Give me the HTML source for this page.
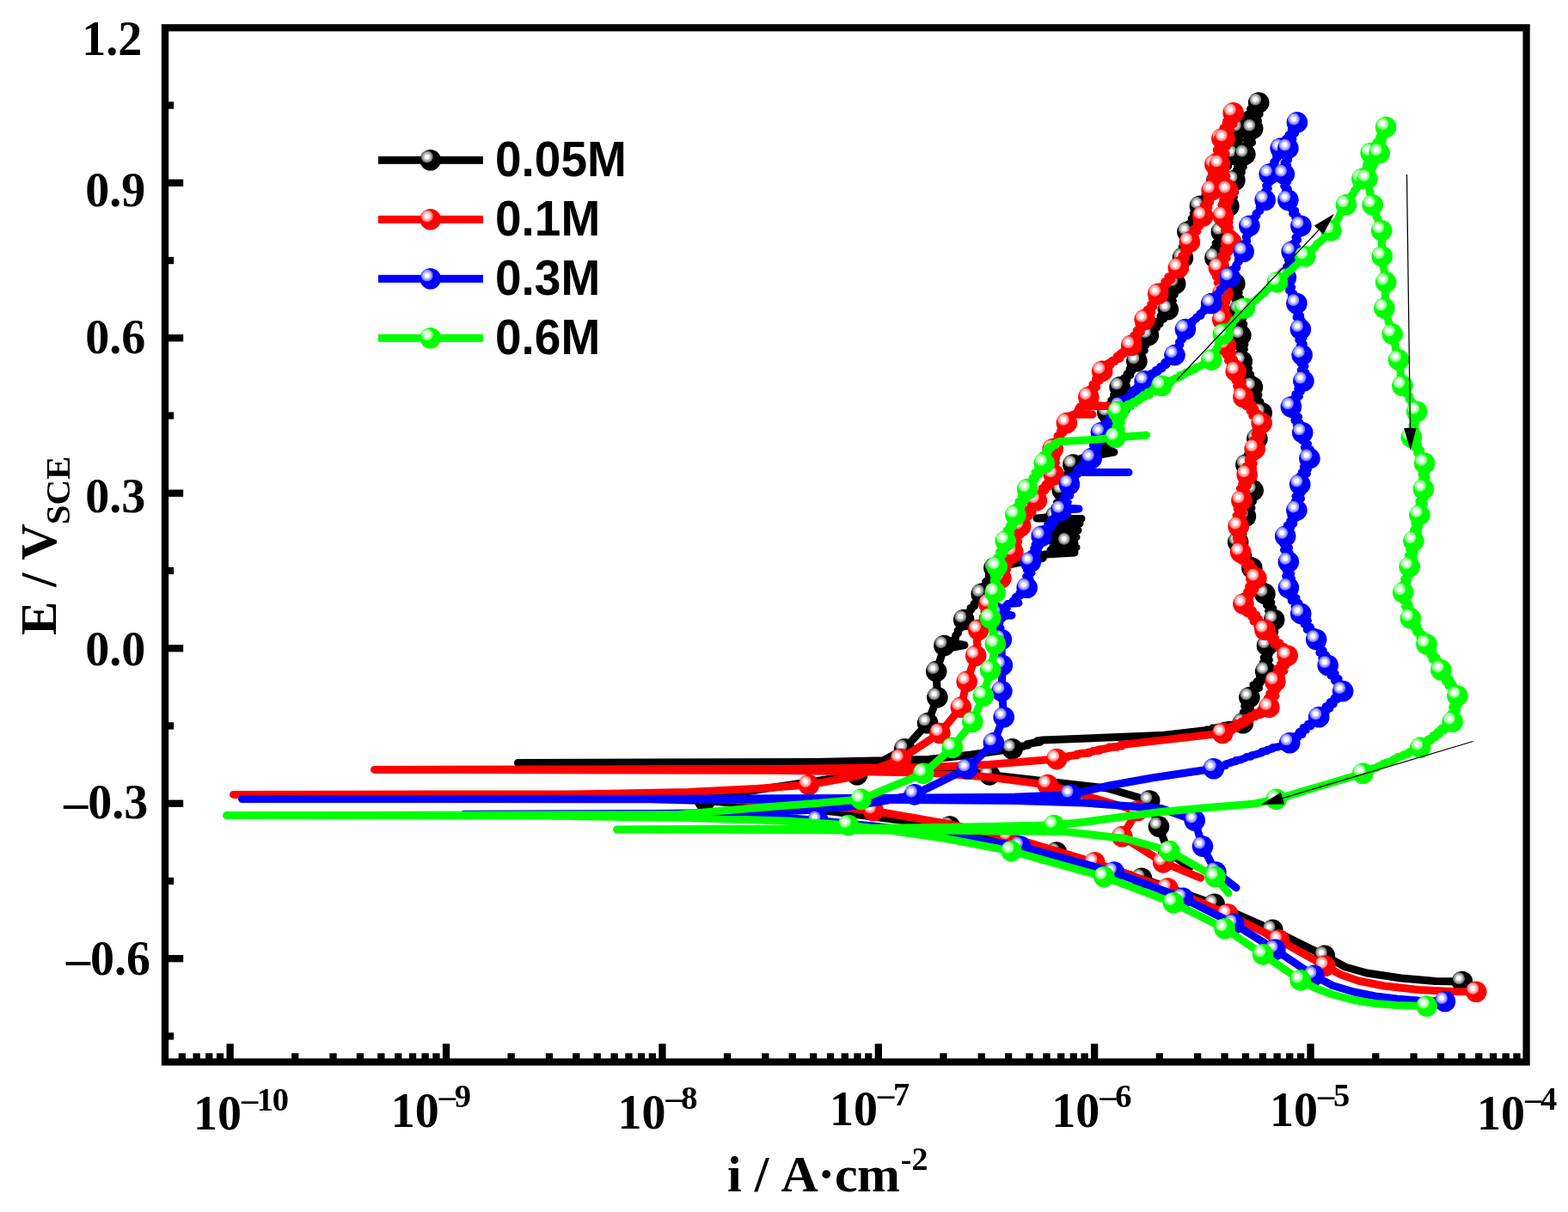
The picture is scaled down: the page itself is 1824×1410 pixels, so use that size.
<!DOCTYPE html>
<html lang="en">
<head>
<meta charset="utf-8">
<title>Cyclic polarization curves</title>
<style>
html,body{margin:0;padding:0;background:#fff;}
body{width:1824px;height:1410px;overflow:hidden;}
svg{display:block;}
.tk{font-family:"Liberation Serif","DejaVu Serif",serif;font-weight:bold;fill:#000;}
.lg{font-family:"Liberation Sans","DejaVu Sans",sans-serif;font-weight:bold;fill:#000;}
.ln{fill:none;stroke-width:9;stroke-linecap:round;stroke-linejoin:round;}
</style>
</head>
<body>
<svg width="1824" height="1410" viewBox="0 0 1824 1410">
<defs>
<g id="mk"><circle r="12.3" fill="#000000"/><circle cx="-3.9" cy="-3.9" r="6.9" fill="#808080"/><circle cx="-3.9" cy="-3.9" r="5.1" fill="#c0c0c0"/><circle cx="-3.9" cy="-3.9" r="3" fill="#fff"/></g>
<g id="mr"><circle r="12.3" fill="#ff0000"/><circle cx="-3.9" cy="-3.9" r="6.9" fill="#ff8080"/><circle cx="-3.9" cy="-3.9" r="5.1" fill="#ffc0c0"/><circle cx="-3.9" cy="-3.9" r="3" fill="#fff"/></g>
<g id="mb"><circle r="12.3" fill="#0000ff"/><circle cx="-3.9" cy="-3.9" r="6.9" fill="#8080ff"/><circle cx="-3.9" cy="-3.9" r="5.1" fill="#c0c0ff"/><circle cx="-3.9" cy="-3.9" r="3" fill="#fff"/></g>
<g id="mg"><circle r="12.3" fill="#00ff00"/><circle cx="-3.9" cy="-3.9" r="6.9" fill="#80ff80"/><circle cx="-3.9" cy="-3.9" r="5.1" fill="#c0ffc0"/><circle cx="-3.9" cy="-3.9" r="3" fill="#fff"/></g>
</defs>
<rect width="1824" height="1410" fill="#fff"/>
<g id="series-k">
<path class="ln" stroke="#000000" d="M1700.9 1142L1670 1141.5L1630 1138L1590 1132L1565 1125L1540.9 1111.9L1480.4 1081.9L1412.6 1051.8L1328 1021.7L1229 991.6L1105 961.6L972 944.5L900 938L820 931.5L700 928L300 926L700 925L860 922L997.1 901.4L1052.2 871.3L1079.2 841.2L1090.4 811.2L1089.2 781.1L1096.6 758.5L1097.1 755.1L1098.4 751L1109 753L1122 750.5L1108 748L1109 744.6L1111.5 742.5L1111.8 739.2L1114.5 736.4L1114.3 733.4L1117.5 730.4L1117.3 727.5L1120.7 724.6L1121.2 721L1121.7 718.7L1126.2 715.6L1125.7 713.5L1129.9 709.2L1129.2 707.1L1133.5 705.3L1133 702.5L1137.6 698.6L1136.4 696.3L1141.1 694L1141.7 690.9L1140.9 688.4L1146.7 685.7L1143.8 682.1L1149.6 678.9L1146.7 676.5L1152.9 673.4L1150.3 669.7L1155.2 667L1152.5 663.9L1156.4 660.8L1180 655.5L1213 649.5L1215 645L1250 643L1222 640L1252 637L1225 634L1250 632L1241.7 630.7L1215 628L1252 625L1220 621L1254 617L1228 613L1256 609L1232 606L1258 603.5L1206 603L1228.4 600.7L1226.8 597.7L1233 593.5L1227.4 589.9L1234.5 587.3L1229.6 584.7L1236.3 581.2L1231.7 577.2L1237.4 574.1L1235.9 570.6L1240.3 566.9L1235.6 565.3L1241.8 561.8L1237.9 558.9L1245 555.5L1240 552.2L1247.7 549.8L1242.8 546.5L1249.3 543.9L1248.4 540.5L1254.3 539.6L1250.7 536.9L1259.9 535.2L1256.7 533.8L1262 532L1296 526L1280 520L1278.8 517.7L1286.4 515.6L1283 513L1287.4 510.4L1289.8 507.7L1285.2 503.6L1289.9 500.8L1285.3 496.3L1290.4 494.4L1284.9 489.6L1291.6 486.3L1285.5 483.7L1288.4 480.3L1287.5 477.9L1293.7 474.7L1289.3 471.5L1296.2 468.6L1292.8 465.7L1300.1 461.7L1295.5 459.5L1303.2 456.5L1298.3 453.7L1302.7 450.3L1307.7 447.7L1303.3 444.3L1310.9 441.9L1307.4 440L1314.9 436.5L1311.2 434.6L1317.5 431.1L1314.1 429L1321.8 425.8L1317.8 423.7L1322.4 420.2L1321.2 417.7L1328.5 414.2L1324.2 410.5L1331.3 407.7L1325.9 404.7L1332.9 401.6L1328.6 398.5L1336 396.6L1331.7 392.3L1335.9 390.1L1341.3 387.1L1337.9 384.7L1345.4 381.6L1342 378.7L1349.1 376.9L1346.2 374.1L1353.6 371.1L1350 367.5L1357.5 365.4L1353.8 362.1L1358.9 360.1L1361.9 356.7L1358.6 353.4L1364.4 349.8L1360.2 347.4L1366.3 342.7L1361.5 340.4L1368.1 337.3L1363 333.6L1367.2 330L1370.8 326.7L1366.8 323.3L1373.1 320.4L1367.9 317L1374.5 313.4L1370.2 310.3L1376.2 306.1L1371.8 303.6L1375.9 299.9L1379.7 297L1374.1 293.2L1379.9 289.4L1375.2 287.2L1381.3 282.5L1377 280.6L1382.6 277.2L1377.6 273.7L1381.4 269.8L1379.8 266.3L1387 263.6L1382.7 260.6L1390.3 257L1386.2 254.3L1392.4 252.2L1388.2 248.1L1395.8 245L1392 242.2L1395.9 239.8L1394.4 237.6L1401.9 234.1L1398.8 231.8L1405.4 229.2L1402 226.2L1409.9 224L1405.8 221L1412.6 217.1L1408.6 214.6L1416.1 212.8L1415.4 209.7L1414.6 207.3L1421.6 203.4L1417.9 200.9L1425 198.6L1421.4 195.6L1428.6 193.4L1425.5 190.6L1432.8 187.5L1428.2 185.8L1435.5 181.6L1435.2 179.6L1438.6 175.9L1433.3 173.7L1439.8 169.2L1435.3 166.9L1441.6 163.5L1435.5 159.5L1442.8 155.9L1438 153.2L1440.9 149.5L1445.9 146.9L1442.7 143.3L1450.4 141.7L1446.2 138.3L1454 136.1L1451 133.5L1458.5 130.4L1454.5 127L1462.3 125L1458.7 122.9L1464.2 119.5L1460.4 122.5L1465.7 125.7L1458.9 128.9L1465.1 132.9L1455.9 136.4L1463.5 140.2L1455.1 142.4L1461.3 146.1L1457.2 149.5L1459.8 153.3L1452 155.4L1457.1 159.3L1450.3 162.8L1456.6 165.8L1448.1 169.7L1453.3 173.5L1445 175.5L1448.4 179.6L1451.3 181.8L1442.4 186.1L1449.1 188.1L1439.3 191.8L1446.3 194.2L1438.5 197.6L1444.4 200.3L1434.4 204.4L1441.1 206.6L1436.4 209.7L1432.9 213.1L1437.8 216.7L1430.6 219.9L1436.6 223.6L1428.4 225.6L1435.4 229.3L1426.7 233.7L1434.2 236.7L1429.4 239.8L1425.4 242.8L1431.8 246.7L1423.4 250.3L1429.4 252.3L1420.4 256.8L1427.7 259.1L1420.1 262.5L1425.8 265.7L1420.9 269.8L1423.3 273L1416.1 275.9L1422 279.2L1414.2 282.8L1419.5 285.9L1412 289.2L1418.6 293.4L1410 296.7L1413.4 299.9L1411.3 302L1420.3 305.9L1416.6 308.1L1425 310.3L1420.5 313.5L1430 315.9L1425.2 319.2L1434.3 321.6L1429.1 325.1L1438.4 326.5L1436.4 330L1440.7 333.2L1434.2 336.5L1441.2 340.4L1434.8 343.5L1442.8 347L1437.1 349.4L1444.6 353.5L1437.3 356.6L1442.2 360.1L1445.9 362.7L1439.3 367.5L1445.9 369.9L1438.4 372.8L1446.8 377.1L1438.7 379.5L1446.6 383.2L1440.6 386.2L1443.4 390.1L1446.3 393.8L1439.8 396.6L1447.9 400.7L1439.8 403L1447.4 406.3L1441.5 411L1448 413.8L1440.9 416.5L1444.7 420.2L1449 423.1L1444.4 425.8L1452.5 428.5L1445.9 432.1L1454.7 435.4L1448.6 439L1457.2 441.1L1450.3 444.7L1460 447.2L1456.9 450.3L1461.6 453.9L1455.9 456.3L1464 459.6L1458.9 463.9L1466 467.6L1459.8 470.7L1468.1 473.2L1462.9 477.1L1467.7 480.3L1469.7 483.2L1462.2 486.9L1469.4 491L1462.3 493.6L1468.5 496.7L1460.8 500.8L1467.6 504.1L1458.9 506.3L1462.4 510.4L1464.8 513.8L1457.1 516.3L1462.1 519.2L1454.5 522.5L1459.6 525.6L1451.6 528.2L1456 531.5L1449 534.5L1454.9 537.4L1449.4 540.5L1454.2 544.2L1448.1 547.2L1456.1 550L1449.2 553.5L1457.3 557.3L1450.5 560.1L1458.9 564.7L1453.9 566.8L1457.7 570.6L1453.2 574.4L1458.7 577.7L1451.6 580L1457.4 583.5L1449.5 587.9L1455.9 590.9L1447.2 593.2L1453.1 597.7L1448.9 600.7L1445.3 603.9L1450.8 607.5L1442.6 610.4L1448.5 613.3L1439.8 616.6L1446 621.4L1438.4 623.5L1444.2 627.3L1440.2 630.7L1444.4 633L1440.7 636.4L1448.7 639.2L1443.1 642.5L1451.7 645.7L1446.8 649L1455.8 652L1448.9 654.8L1458.4 657.6L1456.4 660.8L1461.4 664.6L1455.9 667.1L1464.9 669.2L1459.7 672.7L1466.9 675.7L1462.4 678.9L1470.3 681.4L1464.5 685.6L1473 687.9L1471.4 690.9L1476.8 693.8L1471.1 698.2L1478.9 700.9L1473.5 704L1480.9 707.7L1475.6 710.7L1482.6 713.8L1478 717.5L1482.2 721L1477.2 723.7L1484.5 727.2L1476.7 731.2L1482.8 735L1474.1 738.4L1481 741L1472 744.7L1479 747L1474 751L1476.5 753.6L1470.2 757.1L1476.1 761.8L1470.3 764.9L1476.4 767.6L1469.2 771.3L1475.4 775.1L1468.1 778.2L1472.2 781.1L1474.2 783.1L1465.4 786.8L1470.8 789.9L1462.3 792.8L1466.3 794.2L1457.9 796.7L1464.6 800.5L1455.4 802.9L1459.6 805.7L1452.2 808.8L1453.4 811.2L1449 814.4L1455.8 818.5L1447.7 821.5L1454.4 824.8L1446.4 828.5L1451.3 831L1444.5 834.4L1450.8 837.4L1445.9 841.2L1446 842.4L1435.9 842.3L1439.1 843.2L1428.8 843.4L1433.4 843.9L1423.3 844.3L1426 845.4L1416.5 846.2L1420.2 847.2L1410.5 847L1413.6 848.8L1403.7 848.9L1406.2 850.1L1400 850L1350 855.6L1213 861L1206.5 862L1209.8 863.4L1200.8 864.5L1202.9 864.2L1194.8 865.6L1195.7 867.1L1188.1 868.1L1190.2 868.4L1181 869.3L1183 870.7L1177.6 871.3L1130 878L1080 883.5L950 886.6L602.5 887.5L950 888.4L1080 892L1081.7 892.2L1087.5 892.9L1088.2 893L1094 894.5L1094.8 894.1L1100.6 893.9L1101.4 895L1106.8 895L1108.2 895.2L1113.4 896L1114.5 897.2L1119.6 897.6L1121.1 898.1L1126 898.7L1127.5 898.7L1132.6 898.8L1134.2 898.7L1139.2 899.7L1140.6 900.7L1145.7 901L1147 900.7L1151.1 901.4L1288 917L1337.2 931.5L1348 961.6L1359.4 991.6L1384 1009"/>
<use href="#mk" x="1700.9" y="1142"/>
<use href="#mk" x="1540.9" y="1111.9"/>
<use href="#mk" x="1480.4" y="1081.9"/>
<use href="#mk" x="1412.6" y="1051.8"/>
<use href="#mk" x="1328" y="1021.7"/>
<use href="#mk" x="1229" y="991.6"/>
<use href="#mk" x="1105" y="961.6"/>
<use href="#mk" x="820" y="931.5"/>
<use href="#mk" x="997.1" y="901.4"/>
<use href="#mk" x="1052.2" y="871.3"/>
<use href="#mk" x="1079.2" y="841.2"/>
<use href="#mk" x="1090.4" y="811.2"/>
<use href="#mk" x="1089.2" y="781.1"/>
<use href="#mk" x="1098.4" y="751"/>
<use href="#mk" x="1121.2" y="721"/>
<use href="#mk" x="1141.7" y="690.9"/>
<use href="#mk" x="1156.4" y="660.8"/>
<use href="#mk" x="1241.7" y="630.7"/>
<use href="#mk" x="1228.4" y="600.7"/>
<use href="#mk" x="1235.9" y="570.6"/>
<use href="#mk" x="1248.4" y="540.5"/>
<use href="#mk" x="1287.4" y="510.4"/>
<use href="#mk" x="1288.4" y="480.3"/>
<use href="#mk" x="1302.7" y="450.3"/>
<use href="#mk" x="1322.4" y="420.2"/>
<use href="#mk" x="1335.9" y="390.1"/>
<use href="#mk" x="1358.9" y="360.1"/>
<use href="#mk" x="1367.2" y="330"/>
<use href="#mk" x="1375.9" y="299.9"/>
<use href="#mk" x="1381.4" y="269.8"/>
<use href="#mk" x="1395.9" y="239.8"/>
<use href="#mk" x="1415.4" y="209.7"/>
<use href="#mk" x="1435.2" y="179.6"/>
<use href="#mk" x="1440.9" y="149.5"/>
<use href="#mk" x="1464.2" y="119.5"/>
<use href="#mk" x="1457.2" y="149.5"/>
<use href="#mk" x="1448.4" y="179.6"/>
<use href="#mk" x="1436.4" y="209.7"/>
<use href="#mk" x="1429.4" y="239.8"/>
<use href="#mk" x="1420.9" y="269.8"/>
<use href="#mk" x="1413.4" y="299.9"/>
<use href="#mk" x="1436.4" y="330"/>
<use href="#mk" x="1442.2" y="360.1"/>
<use href="#mk" x="1443.4" y="390.1"/>
<use href="#mk" x="1444.7" y="420.2"/>
<use href="#mk" x="1456.9" y="450.3"/>
<use href="#mk" x="1467.7" y="480.3"/>
<use href="#mk" x="1462.4" y="510.4"/>
<use href="#mk" x="1449.4" y="540.5"/>
<use href="#mk" x="1457.7" y="570.6"/>
<use href="#mk" x="1448.9" y="600.7"/>
<use href="#mk" x="1440.2" y="630.7"/>
<use href="#mk" x="1456.4" y="660.8"/>
<use href="#mk" x="1471.4" y="690.9"/>
<use href="#mk" x="1482.2" y="721"/>
<use href="#mk" x="1474" y="751"/>
<use href="#mk" x="1472.2" y="781.1"/>
<use href="#mk" x="1453.4" y="811.2"/>
<use href="#mk" x="1445.9" y="841.2"/>
<use href="#mk" x="1177.6" y="871.3"/>
<use href="#mk" x="1151.1" y="901.4"/>
<use href="#mk" x="1337.2" y="931.5"/>
<use href="#mk" x="1348" y="961.6"/>
<use href="#mk" x="1359.4" y="991.6"/>
</g>
<g id="series-r">
<path class="ln" stroke="#ff0000" d="M1717.2 1153.8L1690 1153.5L1650 1151.5L1610 1147L1580 1141L1560 1134L1541.4 1123.7L1487.9 1093.6L1428.2 1063.5L1358.4 1033.5L1273.4 1003.4L1173 973.3L1100 958L1015.9 943.2L960 937.5L900 932.5L800 928.5L650 925.5L271.5 924.4L665 923.9L800 921.5L880 917.5L940.9 913.1L996 903L1047.7 883.1L1093.4 853L1117.9 822.9L1124.7 792.9L1135.2 762.8L1135.2 758.8L1136.1 755.8L1135.8 753.1L1137 749.5L1136.2 746.2L1137.6 742.8L1136.9 739.3L1138.4 736.3L1138.2 732.7L1138.6 729.8L1141.4 726.4L1140.9 724.3L1144.3 721.3L1143.2 718L1146.9 714.7L1145.1 711.8L1149.2 709L1147.7 705.2L1150.4 702.6L1150.5 699.5L1155 695.8L1152.7 692.9L1158 690.3L1155.9 688.4L1160.4 684L1158.1 681.2L1163.8 678.5L1160.7 675.6L1164.4 672.6L1167.8 669.9L1164.9 666.6L1171.6 662.7L1167.7 660.6L1173.4 657.9L1170.2 654.2L1176.5 652.2L1173.4 649L1180.2 646.1L1178.4 642.5L1176.6 639.2L1184 635.1L1177.7 632.7L1184.9 629.9L1180.5 625L1186.9 622.4L1182.9 619.2L1189.1 615.5L1187.2 612.4L1185.6 610.4L1194.2 607.5L1188.6 604.8L1197 600.8L1192.7 598.9L1201.1 596.2L1195.9 592.6L1204.1 589.8L1200 587.1L1207.6 585.8L1205.9 582.3L1205.3 580L1212.1 577.2L1208 574.8L1215.7 571L1212.2 568L1220.5 566.1L1216.2 563.2L1222.9 561.2L1219.4 556.9L1227.5 554.7L1225.9 552.2L1222.3 548.2L1228.7 546.3L1222.9 541.8L1228.6 538.2L1221.7 536L1228.8 532.7L1221.8 528.8L1227.9 525.7L1224.7 522.2L1223.8 519.2L1230.9 515.8L1227 513.6L1234.3 510.4L1230.1 507.1L1236.9 503.6L1233.5 501.4L1241.2 498.2L1235.8 494.4L1240.9 492.1L1240.2 489.7L1247.1 486.8L1242.5 484.8L1248 482.3L1271 482.3L1252 481L1256 473L1291 472.5L1260 471L1264.6 468.4L1259.7 466.3L1268.4 464.4L1266.4 462L1264.8 459.2L1271.9 456.5L1267.9 452.6L1275.7 450.7L1271 447.1L1278.9 443.3L1274.4 440.9L1282.3 437.7L1278.1 435.5L1282.2 431.9L1287.2 429.7L1283.3 428L1291.9 424.9L1288.8 422.7L1296.9 420.6L1293.1 419.7L1302.8 417.2L1299.2 414.4L1307.5 411.9L1303.4 410.9L1311.5 408.1L1308 406.4L1316.2 404.5L1316.2 401.9L1320.2 398.6L1316.7 395.8L1323.6 393.2L1318.8 390.3L1327.5 386.4L1322.2 384.3L1330.6 380.7L1324.9 377.6L1333.7 375.1L1331.7 371.8L1336.9 369.2L1331.6 366.5L1339.9 363.3L1334.4 360.1L1341.9 356.9L1338.7 353.8L1345 351.1L1340.4 347.3L1348.7 344.4L1347.2 341.7L1346.3 338.5L1354.7 336.2L1350.6 333.4L1358.3 330.2L1354.8 327.5L1363 325.4L1358.8 322L1367.3 319.2L1363.9 317.9L1372.1 313.7L1370.9 311.6L1369.4 308.8L1377 305.2L1372.1 302.3L1379.3 300.4L1374.9 297.4L1381.9 293.6L1377.6 290.9L1383.7 288.1L1379.9 285.1L1383.9 281.6L1382.6 278.2L1390.1 275.5L1385.6 273.3L1392.8 269.3L1388.1 266.5L1395.7 263.4L1392.1 260L1399.6 257.5L1394.7 254.4L1399.2 251.5L1402.8 247.4L1398.3 244.5L1406 241.2L1400.4 238.8L1407.8 235L1403.6 231.6L1410 228L1405 225.4L1409.7 221.4L1413.4 218.2L1407.6 214.1L1413.3 210.8L1408.4 207.7L1414.3 204.4L1409.4 201.8L1416.1 198.5L1409.8 194L1413.4 191.3L1410.8 187.4L1417.8 184.6L1413.5 182.1L1420.2 178.1L1415.2 174.5L1421.8 171.7L1416.8 167.8L1423.3 164.6L1421.4 161.3L1425.4 158.4L1420.4 156L1429.1 152L1423 148.7L1430.7 145.8L1426.1 142.8L1433.4 139.6L1428.7 137.4L1436.3 134.4L1434.7 131.2L1428.4 134.1L1437.3 138.1L1426.7 140.7L1435.3 144.4L1425.8 147.9L1431.8 151.6L1422.4 155.1L1430.7 158.4L1424.7 161.3L1428.2 164.6L1418.8 168.1L1427.1 171L1418 174.5L1426.2 178.7L1416.3 181.1L1423.8 185.4L1414.4 188.5L1418.9 191.3L1415.7 195.1L1425.2 197.3L1417.8 202.1L1427 205L1420.8 208.3L1429.1 212.2L1422.1 215L1431.1 217.8L1428.4 221.4L1423.6 225L1432.1 227.5L1422.7 232.1L1430.4 235.3L1420.9 238.5L1428 240.8L1419.4 245.2L1427.3 248.1L1422.9 251.5L1418.9 254.4L1430.1 259L1422.1 261.6L1430.5 264.8L1424.5 267.9L1433.5 272.1L1426.1 275.7L1434.4 278.5L1432.2 281.6L1427.4 284.1L1433.4 287.2L1423 290.6L1429.6 293.3L1421 296.8L1427.2 300.1L1418.2 302.8L1424.8 306.3L1416 309L1417.9 311.6L1413.3 314.2L1422.4 318.1L1414.5 322L1424 325.3L1416.2 329L1425 331.6L1417.9 335.4L1425.2 338.3L1422.4 341.7L1426.5 345.3L1417.5 348.6L1426.9 351.2L1418.4 354.3L1426.5 358.2L1418 361L1427.3 365.7L1418.7 369L1422.2 371.8L1418 375.2L1428.1 377.9L1418.5 382.2L1428.4 386L1419.1 387.7L1428.3 392.2L1420.7 395.3L1429.7 398.9L1425.9 401.9L1430.6 404.5L1424.1 408L1433.5 410.6L1426.2 413.3L1435.4 417.7L1428.5 419.4L1438.2 422.6L1431.3 426.5L1441.4 428.2L1437.8 431.9L1433.7 435.2L1443.5 438.1L1436.9 442.7L1445.4 444.9L1438.6 449.3L1446.7 451.2L1439.9 454.6L1449.1 458.5L1446.4 462L1452.1 465L1446.5 467.6L1457.1 470.6L1449.2 472.4L1460 475.9L1454.2 478.1L1463.3 480.9L1456.8 483.7L1467 486.4L1462.6 489.8L1467.7 492.1L1471.1 496.1L1461.7 499.5L1469.2 501.6L1460.1 504.8L1467.6 508.6L1458 511.6L1465.2 516.1L1456.1 519.1L1459.7 522.2L1462.4 525.4L1454.3 529.4L1460.2 531.6L1452.2 535.3L1458.3 539.4L1449.3 542.3L1457.6 545.3L1448 549.3L1450.7 552.2L1445.9 554.9L1454.1 559.2L1444.8 562.8L1451.6 565.1L1442.4 568.3L1449.8 571.8L1441.6 575.6L1450 579.6L1444.4 582.3L1440.1 585.6L1447 588.5L1439.2 592.1L1446.1 595.7L1438 599.7L1445.5 603L1438 605.7L1444.5 609.6L1440.7 612.4L1444.8 615.1L1436.3 619.7L1445 622.7L1438.3 626.5L1446.4 628.5L1438.8 633L1447 636L1439.4 639.8L1443.2 642.5L1440.1 646.2L1450.2 648.3L1443.9 652.1L1455 655.3L1448.8 657.3L1458.6 661L1451.1 664.2L1461.6 667.2L1454.8 670.2L1461.4 672.6L1456.6 676.1L1461.7 678.6L1452.7 682.1L1460.1 685.2L1450.7 688.3L1457.4 690.5L1447.4 693.8L1453.6 696.6L1442.8 700.1L1446.4 702.6L1451.8 705.5L1446.1 708.4L1457.3 710L1450.1 713.4L1461.8 715.2L1455.4 717.2L1464.5 719.8L1458 722.8L1468.4 724.6L1462.9 728.4L1474.3 730.7L1471.4 732.7L1470 735.2L1480.6 737.3L1474.6 740.4L1483.7 742.4L1478.9 744.8L1488.9 748.1L1481.8 749.5L1494 752.5L1487.8 754.8L1497.4 757.9L1492 759.9L1497.7 762.8L1491.4 766.3L1498 769.4L1489.6 772.3L1495.8 774.3L1485.6 777.7L1494 780.8L1483.3 784.1L1490.2 786.5L1480.1 790L1483.4 792.9L1485.9 795.8L1478.5 799.5L1485.5 802.5L1476.8 806.7L1484 809.8L1474.3 812.1L1481.6 816.8L1473.3 819L1476.4 822.9L1477.6 824.8L1466.4 825.7L1471.1 827.1L1460.4 829.1L1466.9 831.4L1454.3 832.7L1460.2 833.9L1449 835.2L1454.7 837.1L1444.1 838.9L1449.1 841.1L1437.3 841.5L1444.1 843L1433 844.7L1438 847.3L1426.7 848.7L1433.1 849.9L1420 851.5L1422.2 853L1370 859L1309 866L1303.4 866.2L1305.3 868.1L1296.2 868.4L1299.5 869.2L1290 869L1292.2 869.6L1283.7 871.6L1286.6 870.8L1277 872.1L1279.3 873.5L1271.3 873.6L1272.9 874L1264.4 875.5L1267.2 876.2L1258.1 876.8L1259.9 876.1L1252.4 877.2L1254 878.5L1246.3 879.4L1247.7 878.9L1239.5 880.2L1241.2 881.5L1233.2 881.3L1234.5 881.7L1229.2 883.1L1150 889.5L1080 892.5L900 894.6L435.5 895.4L900 896.2L1080 899L1150 904L1218.8 913.1L1323 943.2L1305.3 973.3L1353.2 1003.4L1396.7 1021.3"/>
<use href="#mr" x="1717.2" y="1153.8"/>
<use href="#mr" x="1541.4" y="1123.7"/>
<use href="#mr" x="1487.9" y="1093.6"/>
<use href="#mr" x="1428.2" y="1063.5"/>
<use href="#mr" x="1358.4" y="1033.5"/>
<use href="#mr" x="1273.4" y="1003.4"/>
<use href="#mr" x="1173" y="973.3"/>
<use href="#mr" x="1015.9" y="943.2"/>
<use href="#mr" x="940.9" y="913.1"/>
<use href="#mr" x="1047.7" y="883.1"/>
<use href="#mr" x="1093.4" y="853"/>
<use href="#mr" x="1117.9" y="822.9"/>
<use href="#mr" x="1124.7" y="792.9"/>
<use href="#mr" x="1135.2" y="762.8"/>
<use href="#mr" x="1138.2" y="732.7"/>
<use href="#mr" x="1150.4" y="702.6"/>
<use href="#mr" x="1164.4" y="672.6"/>
<use href="#mr" x="1178.4" y="642.5"/>
<use href="#mr" x="1187.2" y="612.4"/>
<use href="#mr" x="1205.9" y="582.3"/>
<use href="#mr" x="1225.9" y="552.2"/>
<use href="#mr" x="1224.7" y="522.2"/>
<use href="#mr" x="1240.9" y="492.1"/>
<use href="#mr" x="1266.4" y="462"/>
<use href="#mr" x="1282.2" y="431.9"/>
<use href="#mr" x="1316.2" y="401.9"/>
<use href="#mr" x="1331.7" y="371.8"/>
<use href="#mr" x="1347.2" y="341.7"/>
<use href="#mr" x="1370.9" y="311.6"/>
<use href="#mr" x="1383.9" y="281.6"/>
<use href="#mr" x="1399.2" y="251.5"/>
<use href="#mr" x="1409.7" y="221.4"/>
<use href="#mr" x="1413.4" y="191.3"/>
<use href="#mr" x="1421.4" y="161.3"/>
<use href="#mr" x="1434.7" y="131.2"/>
<use href="#mr" x="1424.7" y="161.3"/>
<use href="#mr" x="1418.9" y="191.3"/>
<use href="#mr" x="1428.4" y="221.4"/>
<use href="#mr" x="1422.9" y="251.5"/>
<use href="#mr" x="1432.2" y="281.6"/>
<use href="#mr" x="1417.9" y="311.6"/>
<use href="#mr" x="1422.4" y="341.7"/>
<use href="#mr" x="1422.2" y="371.8"/>
<use href="#mr" x="1425.9" y="401.9"/>
<use href="#mr" x="1437.8" y="431.9"/>
<use href="#mr" x="1446.4" y="462"/>
<use href="#mr" x="1467.7" y="492.1"/>
<use href="#mr" x="1459.7" y="522.2"/>
<use href="#mr" x="1450.7" y="552.2"/>
<use href="#mr" x="1444.4" y="582.3"/>
<use href="#mr" x="1440.7" y="612.4"/>
<use href="#mr" x="1443.2" y="642.5"/>
<use href="#mr" x="1461.4" y="672.6"/>
<use href="#mr" x="1446.4" y="702.6"/>
<use href="#mr" x="1471.4" y="732.7"/>
<use href="#mr" x="1497.7" y="762.8"/>
<use href="#mr" x="1483.4" y="792.9"/>
<use href="#mr" x="1476.4" y="822.9"/>
<use href="#mr" x="1422.2" y="853"/>
<use href="#mr" x="1229.2" y="883.1"/>
<use href="#mr" x="1218.8" y="913.1"/>
<use href="#mr" x="1323" y="943.2"/>
<use href="#mr" x="1305.3" y="973.3"/>
<use href="#mr" x="1353.2" y="1003.4"/>
</g>
<g id="series-b">
<path class="ln" stroke="#0000ff" d="M1680.9 1165L1650 1164L1625 1162L1600 1159L1575 1154L1550 1146.5L1528.4 1134.9L1483.4 1104.9L1435.4 1074.8L1376.1 1044.7L1295.9 1014.6L1186.9 984.6L1100 971L1020 961.5L951.4 954.5L877 948.5L750 947.6L540 947.3L750 946.6L880 945L940 942.5L991.6 937.9L1030 931.5L1063.9 924.4L1125.2 894.3L1155.9 864.2L1167.7 834.2L1165.4 804.1L1165.9 774L1165.1 756.9L1165.6 753.2L1164.8 751L1165.5 747.3L1164.9 744L1163.8 739.9L1164.8 737.4L1162.5 734.1L1164 730.4L1161.3 727L1163 724.2L1160.4 719.9L1162.1 717.6L1160.4 713.9L1166 716.5L1177 716L1168 714L1167.7 711.4L1171.2 707.7L1169.6 705.9L1172 702.5L1185 701.5L1178 699L1181.8 696.2L1181.4 694.3L1187 693L1185.8 690.1L1191.6 687.8L1190 686L1194.7 683.8L1196.8 680.9L1193.2 677.6L1198 673.8L1193.7 670.6L1200 666.6L1194.4 663L1200.4 659.6L1195.4 657.4L1198.9 653.7L1197 651.4L1204.4 648.5L1199.4 644.5L1207.7 641.5L1202.7 638L1209.5 635.2L1204.1 633.4L1211.7 629L1207.3 626.1L1211.7 623.7L1210.2 620.5L1218.8 618.8L1215 615.2L1223.6 613.2L1218.5 610.3L1227.1 607.6L1222.7 604.7L1231 601.4L1227.6 599.5L1235.7 596.4L1234.7 593.6L1255 592L1238 591L1236.3 587.8L1242.3 584.2L1236.7 580.3L1244.7 576.6L1238.6 573.9L1245.1 570.5L1240.2 566.9L1243.9 563.5L1243.2 560.5L1250.6 557.3L1245.2 554.6L1253.7 551.8L1252 549.5L1313 549.5L1252 549.5L1257.4 546.5L1253.7 544.9L1262.9 542.7L1259 540.4L1267.3 538.7L1264.7 536.3L1269.7 533.4L1267.7 530.9L1275.2 527.6L1270.3 524.1L1277 521.1L1271.5 518.1L1279.3 515.3L1274 512.3L1281.8 509L1277.1 505.7L1280.9 503.3L1285.6 501.2L1281.9 497.3L1290 494.5L1285.9 492.3L1294.7 489.3L1289.6 486.5L1299 484.4L1294.9 482L1302 478.5L1298.9 476.5L1303.4 473.3L1309.2 470.6L1304.8 467.9L1312.9 466.4L1309.5 462.7L1318.9 461.4L1315 457.5L1323.1 455.2L1318.8 453.2L1327.9 450.8L1323.6 448.7L1332.3 445.9L1331.7 443.2L1336.4 440.4L1333.5 438.4L1341.6 436.5L1338.9 434.7L1347 432.4L1344.4 430.6L1351.7 428.8L1349.5 426.6L1356.7 424.6L1354.8 421.5L1361.3 420.1L1360 417.3L1366.1 415.7L1366.5 413.1L1366.3 410L1370.2 406.8L1368.8 404.6L1372.9 401L1371.5 397.8L1375.4 395L1374 392.6L1377.8 389.8L1376.3 386.3L1378.9 383.1L1382.7 381.4L1381.9 378.7L1387.2 375.4L1386.6 373.6L1391.8 370.8L1391.8 369L1396.9 367.2L1396 364.8L1401.1 361.7L1400.7 359.2L1405.9 357.6L1405.4 354.7L1409.2 353L1412.5 349.7L1411.6 347.2L1416.5 345.2L1415.6 342.1L1420.2 339.1L1419.3 336.2L1424.2 333.8L1423.6 331.6L1428.2 329.1L1427.9 326.1L1430.9 322.9L1430.8 319.3L1435.5 317.6L1434.1 313.3L1438.9 311.6L1437.7 308.4L1441.4 304.2L1440.4 302.2L1445.2 299.1L1443.7 295.5L1446.7 292.8L1445.7 289.7L1449.8 285.7L1447.4 283.2L1450.7 280L1449.3 275.7L1452.2 273L1450.8 270.2L1453.7 266.6L1453.4 262.8L1453.8 259.9L1458.6 257L1457.8 254.2L1462 250.9L1461.1 248.4L1465.7 245.3L1465.1 241.4L1469.5 238.9L1468.2 235.2L1471.7 232.7L1470.6 228.8L1473.9 226.1L1471.6 222.8L1475.2 219.3L1472.8 216L1476.4 212.8L1473.9 209.8L1477.7 205.6L1476.7 202.6L1476.4 199.9L1480.9 197.2L1479.4 193.6L1483.1 190.1L1481.8 188.3L1486 183.9L1484.6 181.3L1488.7 178.5L1487.2 175.6L1489.7 172.5L1492.5 169.9L1491.4 167.5L1496.4 163.8L1495.2 161.8L1499.9 158.8L1499.1 156.8L1503.1 153.8L1502.3 151.1L1506.7 147.3L1505.8 145.2L1508.9 142.4L1506 146.1L1508.3 149.5L1503.9 153.1L1506.5 155.1L1500.9 159.6L1503.9 161.9L1498.7 166.3L1501.5 169.9L1498.4 172.5L1496 176.5L1498.9 178.9L1495 182.6L1498.6 186.1L1494 189.4L1497.6 192.4L1492.9 196.1L1496.1 199L1493.9 202.6L1495.8 205.7L1493.3 208.6L1497.2 212.4L1493.7 216.4L1498.4 219.9L1495.3 222L1499.3 225.6L1495.6 229.2L1498.4 232.7L1498.3 235L1503.3 239L1501.3 242.4L1506.7 245L1503.6 248.5L1508.9 251.1L1506.9 254.1L1512.1 256.8L1510 260.3L1513.4 262.8L1513.9 265.8L1508.9 268.8L1511.2 272.2L1507.1 276L1509.6 279.2L1504.8 283.1L1506.7 286.3L1501.8 289.4L1502.7 292.8L1500 296.7L1503.2 300.2L1498.3 302.5L1501.5 306.6L1496.7 309.9L1500.4 313.4L1495.4 316.4L1498.2 319.5L1495.9 322.9L1494.7 326.5L1500.4 328.5L1497.2 332.2L1502.7 334.2L1499.6 338.1L1505.1 341.7L1502.4 344.4L1508.4 346.6L1504.9 349.4L1508.4 353L1506.7 356.8L1511.3 359.2L1507.7 362.2L1512.7 367.1L1508.1 369.2L1514.2 372.6L1509.8 376.6L1514.6 379.2L1512.9 383.1L1515.2 385.9L1510.2 389L1516.1 392.6L1510.8 395.6L1516.3 400.1L1512 403L1516.7 406.4L1511.6 409.1L1514.7 413.1L1512.4 416.9L1517.3 419.2L1512.8 422.5L1517.9 425.9L1513.3 430.4L1518.8 433.2L1513.1 437L1518.5 439.1L1516.4 443.2L1512.7 446.2L1516.7 449.8L1509.8 452.1L1513.4 455.4L1506.8 458.6L1511.4 461.3L1503 464.8L1508.4 467.8L1500.3 469.6L1501.9 473.3L1499.7 476.6L1507.3 480L1502.6 482L1510.7 484.9L1505.9 489L1512.2 491.9L1508.3 494.4L1515.8 498L1511.2 499.7L1515.2 503.3L1513.4 506.6L1519.4 509.4L1514.8 512.7L1521.5 516.5L1517.3 520.5L1524.3 522.7L1518.1 526.2L1525.9 529.4L1523.4 533.4L1518.6 536L1523.7 539.2L1516.4 542.9L1521.4 546.1L1514.4 549.2L1520.4 550.9L1512.1 553.7L1517 557.5L1510.6 560L1512.2 563.5L1514.7 567.5L1508.2 570.3L1514.3 573L1507 577.3L1513.6 580.1L1506.5 582.9L1512.2 587.1L1505.1 590.9L1508.4 593.6L1510.5 597.2L1502 599.9L1507.2 603.2L1500.8 605.7L1504.8 609.2L1497.2 611.1L1501.7 613.9L1494.4 618.1L1499.3 620.2L1495.2 623.7L1493 627L1498.8 630L1493.1 633.3L1499.6 637.1L1493.5 639.8L1500.4 643.3L1495.3 647L1502 649.9L1498.9 653.7L1496 657.2L1501.9 660.6L1496.3 663.9L1501.8 667.5L1495.7 670.3L1502.7 673.3L1496.6 676.5L1502.2 679.8L1498.9 683.8L1497.9 686.5L1505 689L1500.2 693.6L1508 695.7L1502.4 698.9L1511 701.6L1506 705.2L1513.7 708.2L1509.2 710.7L1513.2 713.9L1517.6 716.3L1513.3 719.3L1521.4 722.1L1517 726.1L1524.5 729.6L1520.2 732.3L1529.3 735.3L1525.2 737.6L1532 740.2L1531.2 744L1529.3 746.7L1537.3 749.5L1532.5 752.4L1539.2 756.5L1534.9 759.4L1542.8 762.3L1537.8 765.8L1544.4 767.9L1539.7 771.3L1544.7 774L1549.9 777.4L1544.8 779.7L1553.2 783.3L1548.1 786.1L1557.1 789.4L1552.6 792.2L1559.5 795.3L1555.9 798.9L1563.2 801.6L1562.2 804.1L1557 806.7L1560.1 808.9L1552.2 812L1555.9 813.6L1547.2 816.7L1551.2 819.1L1542.2 821.9L1546.8 824.2L1538.3 826.5L1542.1 829.1L1534.1 831.2L1534.2 834.2L1534.1 836.1L1526.4 838.4L1529.5 840.2L1521.5 842.4L1524.7 844.9L1516.1 846.4L1519.5 849.1L1511.2 851.6L1515 854.3L1506.8 856.2L1510.6 857.1L1502.8 860.4L1504.9 862.7L1500.2 864.2L1500 865.5L1491.9 866.9L1493.3 867.3L1486.1 868.9L1486.7 869.1L1480.2 869.7L1480.7 870.8L1473.8 872.3L1474.2 873.5L1468 874.2L1468.5 875.4L1462.2 877.4L1462.7 877.3L1455.6 878.9L1455.9 879.9L1450 880.5L1449.9 881.2L1444 883.7L1444 883.7L1437.4 884.7L1437.8 885.7L1431.5 887L1431.6 887.5L1425.8 888.9L1425.4 890.8L1420 891.1L1418.8 891.6L1414 892.6L1411.8 894.3L1340 905L1290 914L1245.5 924.4L1180 927.2L1000 928.6L700 929.3L281.5 929.5L700 929.7L1000 930.2L1180 931.5L1260 934L1351 940.5L1389.7 954.5L1399 984.6L1414.4 1014.6L1438 1032.7"/>
<use href="#mb" x="1680.9" y="1165"/>
<use href="#mb" x="1528.4" y="1134.9"/>
<use href="#mb" x="1483.4" y="1104.9"/>
<use href="#mb" x="1435.4" y="1074.8"/>
<use href="#mb" x="1376.1" y="1044.7"/>
<use href="#mb" x="1295.9" y="1014.6"/>
<use href="#mb" x="1186.9" y="984.6"/>
<use href="#mb" x="951.4" y="954.5"/>
<use href="#mb" x="1063.9" y="924.4"/>
<use href="#mb" x="1125.2" y="894.3"/>
<use href="#mb" x="1155.9" y="864.2"/>
<use href="#mb" x="1167.7" y="834.2"/>
<use href="#mb" x="1165.4" y="804.1"/>
<use href="#mb" x="1165.9" y="774"/>
<use href="#mb" x="1164.9" y="744"/>
<use href="#mb" x="1160.4" y="713.9"/>
<use href="#mb" x="1194.7" y="683.8"/>
<use href="#mb" x="1198.9" y="653.7"/>
<use href="#mb" x="1211.7" y="623.7"/>
<use href="#mb" x="1234.7" y="593.6"/>
<use href="#mb" x="1243.9" y="563.5"/>
<use href="#mb" x="1269.7" y="533.4"/>
<use href="#mb" x="1280.9" y="503.3"/>
<use href="#mb" x="1303.4" y="473.3"/>
<use href="#mb" x="1331.7" y="443.2"/>
<use href="#mb" x="1366.5" y="413.1"/>
<use href="#mb" x="1378.9" y="383.1"/>
<use href="#mb" x="1409.2" y="353"/>
<use href="#mb" x="1430.9" y="322.9"/>
<use href="#mb" x="1446.7" y="292.8"/>
<use href="#mb" x="1453.4" y="262.8"/>
<use href="#mb" x="1471.7" y="232.7"/>
<use href="#mb" x="1476.7" y="202.6"/>
<use href="#mb" x="1489.7" y="172.5"/>
<use href="#mb" x="1508.9" y="142.4"/>
<use href="#mb" x="1498.4" y="172.5"/>
<use href="#mb" x="1493.9" y="202.6"/>
<use href="#mb" x="1498.4" y="232.7"/>
<use href="#mb" x="1513.4" y="262.8"/>
<use href="#mb" x="1502.7" y="292.8"/>
<use href="#mb" x="1495.9" y="322.9"/>
<use href="#mb" x="1508.4" y="353"/>
<use href="#mb" x="1512.9" y="383.1"/>
<use href="#mb" x="1514.7" y="413.1"/>
<use href="#mb" x="1516.4" y="443.2"/>
<use href="#mb" x="1501.9" y="473.3"/>
<use href="#mb" x="1515.2" y="503.3"/>
<use href="#mb" x="1523.4" y="533.4"/>
<use href="#mb" x="1512.2" y="563.5"/>
<use href="#mb" x="1508.4" y="593.6"/>
<use href="#mb" x="1495.2" y="623.7"/>
<use href="#mb" x="1498.9" y="653.7"/>
<use href="#mb" x="1498.9" y="683.8"/>
<use href="#mb" x="1513.2" y="713.9"/>
<use href="#mb" x="1531.2" y="744"/>
<use href="#mb" x="1544.7" y="774"/>
<use href="#mb" x="1562.2" y="804.1"/>
<use href="#mb" x="1534.2" y="834.2"/>
<use href="#mb" x="1500.2" y="864.2"/>
<use href="#mb" x="1411.8" y="894.3"/>
<use href="#mb" x="1245.5" y="924.4"/>
<use href="#mb" x="1389.7" y="954.5"/>
<use href="#mb" x="1399" y="984.6"/>
<use href="#mb" x="1414.4" y="1014.6"/>
</g>
<g id="series-g">
<path class="ln" stroke="#00ff00" d="M1659.7 1170.5L1625 1169.5L1600 1167.5L1575 1163.5L1550 1157L1530 1149.5L1512.7 1140.4L1469.2 1110.4L1424.7 1080.3L1364.9 1050.2L1284.4 1020.1L1176.5 990.1L1100 975.5L1040 967L986.9 960L915 955L800 951.5L640 949.2L263.5 948.6L790 947.6L890 939L950 934.5L1001.6 929.9L1074.2 899.8L1107.9 869.8L1131.4 839.7L1143.9 809.6L1152.2 779.5L1156.9 756.4L1156.9 753.6L1157.8 749.5L1156.6 746.3L1157 742L1155.2 738.7L1155.9 735.7L1154 732.7L1154.9 729.9L1152.4 726.3L1153.8 723L1152.2 719.4L1153.8 716.8L1151.8 713.2L1155.5 709.1L1153.4 705.7L1156.4 703.1L1154.3 699.9L1158 696.7L1155 691.8L1157.7 689.3L1160.1 685.9L1155.7 682.5L1159.9 679.5L1156.2 675.6L1160.5 672.3L1156.2 669.7L1161.1 665.5L1157.5 661.9L1159.7 659.2L1158.6 656L1164.4 652L1160 648.6L1167 645.2L1162.5 642.1L1168.9 639.9L1164.1 635.5L1172 632L1169.7 629.2L1174.2 626.4L1169.7 623.9L1175.6 619.7L1171.1 616.8L1178.1 613.4L1174.4 611.2L1180.4 608.3L1176.4 605L1183.8 602.1L1181.4 599.1L1179.4 595.6L1186.5 593.7L1182.2 589.7L1189.3 587.4L1184.8 583.6L1193.2 581.6L1188 577.9L1194.7 574.3L1190.2 571.6L1195.2 569L1194.4 566.8L1201.7 563.2L1198.1 561.2L1204.5 557.6L1201 555.9L1208.8 552.2L1204.1 549.4L1211.5 546.8L1208.3 543.7L1215.3 541.4L1214.7 538.9L1212.9 535.4L1219.2 533.1L1213.3 529.4L1219.9 525.2L1217.5 522.5L1222.7 521.4L1220.3 519.8L1228.7 517.5L1226.6 515.9L1232.5 513.8L1275 511.3L1297.7 508.8L1333.8 506.3L1301 508.8L1304.6 504.8L1298 502.5L1304.4 499.2L1297.8 495.9L1304.4 491.9L1297.8 489.4L1304.3 485.3L1297.6 482.7L1300.9 478.8L1300.6 476.9L1309.5 475.6L1307 474L1315.7 472.7L1311.7 470.2L1321 468.9L1317.7 467.6L1325.6 465.8L1323.9 463.9L1331.8 461.6L1328.6 460.4L1337.6 459.4L1334.8 456.3L1342.8 455.7L1340.6 453.2L1349 452.3L1346.2 451L1351.4 448.7L1356.7 446.7L1355.2 446.2L1362.5 444.8L1361.3 442.8L1367.5 440.6L1367.2 440.2L1373.4 438.5L1373 436.3L1378.5 435.1L1379.4 433.2L1384.2 432.4L1385.4 430.4L1389.9 429.9L1391.4 427L1395.2 426.7L1397.5 425L1401.1 422.8L1403.2 420.9L1406.8 420.1L1409.4 418.6L1411.2 415.2L1411.8 411.9L1413.8 409.5L1414.4 406.8L1416.5 404.3L1417.1 400.1L1419.2 397.1L1419.9 394.5L1421.9 391L1422.9 388.6L1425.3 386.4L1426.7 383.7L1429.5 380.9L1430.8 379.2L1433.6 376.7L1435 372.9L1437.8 371.2L1439.2 368.3L1442 366.6L1443.3 364.2L1446.2 361.2L1447.9 358.5L1450.8 357L1452.6 354.8L1455.8 353.1L1457.6 351.2L1460.9 348.9L1462.8 347.1L1466 344.2L1467.9 342.3L1471.1 340.9L1472.9 337.7L1476.2 335.7L1477.9 333.9L1481.2 332.9L1483.1 329.8L1485.9 328.4L1488 326.6L1491.3 324.5L1493.1 322.2L1496.2 318.7L1498 316.5L1501.3 314.7L1503.1 312.8L1506.3 309.6L1508.1 308.1L1511.3 304.8L1513 303.7L1516.2 300.8L1518.4 298.3L1521.1 296L1522.7 292.9L1525.7 291.4L1527.3 289.6L1530.3 286.7L1531.9 283.7L1534.9 282L1536.4 280.5L1539.5 277.5L1541.2 275.1L1544.2 273.5L1545.8 270.3L1548.4 268.2L1550.5 265.9L1551.6 262.7L1553.9 258.7L1555.1 256.5L1557.5 253L1558.5 249.6L1561 246.6L1562.1 243.8L1564.4 241.2L1565.9 238.2L1567.9 235.3L1568.9 232.2L1571.2 230.2L1572.3 227.3L1574.7 224.7L1575.6 221.3L1578.1 219.5L1578.9 216L1581.3 214.2L1582.4 211.6L1584.4 208.1L1585.3 204.3L1587.1 201L1587.5 198.6L1589.3 195.2L1589.8 191.2L1591.6 187.3L1592.1 185L1593.9 182.1L1594.7 178L1596.7 175.4L1597.8 172.3L1600.2 168.3L1601.4 165.3L1603.8 163L1604.8 159.4L1607.2 156.5L1608.2 154.7L1610.8 150.3L1612.2 147.9L1611.7 151.2L1610.1 154.4L1610 158L1608.5 161.5L1608.2 165L1606.7 167.5L1606.7 171.7L1605.2 174.2L1604.7 178L1603.6 180.3L1601.4 184.5L1600.8 187.6L1598.6 189.9L1597.9 193.1L1595.7 196.6L1595 199.7L1592.9 202.5L1592.2 204.9L1590.4 208.1L1590.7 211.8L1592.2 215.2L1592.2 218.5L1593.4 221.2L1593.5 224L1594.9 228.4L1594.9 231.1L1596.4 235.1L1596.7 238.2L1598.2 241.6L1598.6 244.7L1600.6 248.4L1600.9 252L1602.9 254.1L1603.3 258.6L1605.1 261.4L1605.7 264.4L1607.2 268.2L1607.5 271.2L1606.8 275L1607.7 279L1607 282.4L1607.8 285.5L1607.2 288.5L1607.9 290.9L1607.2 294.4L1607.7 298.3L1608.4 301.7L1608.3 304.3L1609.6 308.2L1609.3 311.8L1610.5 314.7L1610.3 318.5L1611.5 322.1L1611.3 324.3L1612.2 328.4L1612.2 331.2L1611.4 334.9L1612 338.8L1611.1 342.5L1611.6 344.4L1610.6 348.3L1611.1 352.5L1610.3 355.2L1610.4 358.5L1611 361.8L1612.9 365.7L1613.1 367.9L1614.9 371.8L1615.2 374.5L1616.9 377.9L1617.3 382.1L1619 384.8L1619.7 388.6L1620.1 392.3L1621.6 396L1621.7 398.9L1623.2 401.3L1623.3 405.7L1624.9 408.4L1625.1 412.2L1626.5 415.4L1627 418.6L1627.1 421.5L1628.3 426.1L1628 429.3L1629.2 431.3L1629.1 435.2L1630.3 438L1630 441.3L1631.3 445.6L1631.4 448.7L1632.3 451.5L1635.6 454.3L1635.6 458.1L1639.3 460L1638.9 464.2L1642.7 467.2L1642 469.6L1646 473.3L1645.1 476L1648.2 478.8L1645.9 482.2L1648.8 486.1L1644.2 488.6L1647 492.7L1643 494.8L1646.3 498.8L1640.8 501.8L1645.3 504.8L1641.9 508.8L1646.3 511.2L1642.5 515.2L1649.6 517.5L1645.6 520.7L1652.7 523.7L1648.7 527.2L1655.6 530.6L1650.6 533.6L1658.4 536.4L1657.2 538.9L1659.6 542.1L1653.4 546.2L1659.3 548.7L1653.9 552.1L1659.2 555.5L1653.9 559.1L1659.5 562.4L1652.7 565.8L1655.9 569L1658.7 573L1652.3 574.9L1657.3 579.1L1650.9 583.1L1656.5 586.2L1650.6 589.1L1655.7 591.7L1649.6 596.1L1651.4 599.1L1648.3 602.6L1652.2 606.2L1646 608.7L1650.8 612.9L1644.6 616.2L1649.5 618.9L1642.4 622.7L1648 625.9L1644.4 629.2L1640.7 633.2L1646.1 636.4L1639.7 639.7L1645.6 643.1L1638.3 646.6L1644.3 649.2L1637.5 653L1642.9 655.8L1639.7 659.2L1642 663.4L1635.3 665.4L1639.6 669.1L1633.7 673.3L1637.7 675.6L1632.3 679.5L1637.1 682.1L1630.7 685.9L1632.2 689.3L1629.7 691.9L1636.4 695.5L1632.6 698.9L1639.2 702.8L1634.5 705.5L1640.5 708.8L1635.7 712.4L1642.9 716.5L1640.9 719.4L1645.1 722.7L1640.8 724.6L1648.9 728.3L1644.8 729.9L1651.6 733.8L1647.7 735.6L1655.7 738.5L1651.9 742L1659.2 743.6L1655.6 746.7L1659.5 749.5L1664.5 752.8L1659.8 754.9L1667 758.2L1663.7 762.1L1670.9 764.7L1666 767.1L1674.3 769.9L1669.8 772.7L1678.1 777.1L1676.4 779.5L1675.8 781.9L1683 784.3L1678.7 787.7L1686.8 790.6L1681.6 792.9L1690.1 795.8L1685 798L1693.6 800.9L1689 804.2L1696.1 807.4L1695.4 809.6L1697.4 812.3L1691.5 816.2L1696.7 819.4L1689.7 822.3L1694.9 826.2L1688 830.2L1694 832.2L1687.6 836.7L1689.7 839.7L1690.1 841.6L1682.5 844.5L1685.5 845.2L1676.6 847.4L1679.9 849.8L1672.1 851.4L1674.7 854L1667.3 855.2L1670 857.4L1661.6 859.8L1664.8 861.5L1657 863.1L1659 865.1L1652.3 868.1L1652.2 869.8L1651 871.7L1644.1 871.8L1644.6 873.3L1638.6 875.1L1638.3 877.3L1632.3 878L1632.6 879.7L1626.1 880.5L1626.2 881.9L1620.7 883.3L1620.3 885.6L1614.2 886.4L1614 886.8L1608.6 888.6L1607.9 889.6L1602.6 891.6L1601.7 893.5L1596.5 893.8L1595.5 896.4L1590.6 896.9L1589.2 897.9L1585.4 899.8L1484.7 929.9L1460 935L1400 940L1350 944.5L1300 951L1260 956.5L1226.1 960L1100 962.5L900 964.3L717.5 965L900 965.6L1100 966.2L1238 967.5L1309 975.5L1360.5 990.1L1413.6 1020.1L1429 1039"/>
<use href="#mg" x="1659.7" y="1170.5"/>
<use href="#mg" x="1512.7" y="1140.4"/>
<use href="#mg" x="1469.2" y="1110.4"/>
<use href="#mg" x="1424.7" y="1080.3"/>
<use href="#mg" x="1364.9" y="1050.2"/>
<use href="#mg" x="1284.4" y="1020.1"/>
<use href="#mg" x="1176.5" y="990.1"/>
<use href="#mg" x="986.9" y="960"/>
<use href="#mg" x="1001.6" y="929.9"/>
<use href="#mg" x="1074.2" y="899.8"/>
<use href="#mg" x="1107.9" y="869.8"/>
<use href="#mg" x="1131.4" y="839.7"/>
<use href="#mg" x="1143.9" y="809.6"/>
<use href="#mg" x="1152.2" y="779.5"/>
<use href="#mg" x="1157.8" y="749.5"/>
<use href="#mg" x="1152.2" y="719.4"/>
<use href="#mg" x="1157.7" y="689.3"/>
<use href="#mg" x="1159.7" y="659.2"/>
<use href="#mg" x="1169.7" y="629.2"/>
<use href="#mg" x="1181.4" y="599.1"/>
<use href="#mg" x="1195.2" y="569"/>
<use href="#mg" x="1214.7" y="538.9"/>
<use href="#mg" x="1297.7" y="508.8"/>
<use href="#mg" x="1300.9" y="478.8"/>
<use href="#mg" x="1351.4" y="448.7"/>
<use href="#mg" x="1409.4" y="418.6"/>
<use href="#mg" x="1422.9" y="388.6"/>
<use href="#mg" x="1447.9" y="358.5"/>
<use href="#mg" x="1485.9" y="328.4"/>
<use href="#mg" x="1518.4" y="298.3"/>
<use href="#mg" x="1548.4" y="268.2"/>
<use href="#mg" x="1565.9" y="238.2"/>
<use href="#mg" x="1584.4" y="208.1"/>
<use href="#mg" x="1594.7" y="178"/>
<use href="#mg" x="1612.2" y="147.9"/>
<use href="#mg" x="1604.7" y="178"/>
<use href="#mg" x="1590.4" y="208.1"/>
<use href="#mg" x="1596.7" y="238.2"/>
<use href="#mg" x="1607.2" y="268.2"/>
<use href="#mg" x="1607.7" y="298.3"/>
<use href="#mg" x="1612.2" y="328.4"/>
<use href="#mg" x="1610.4" y="358.5"/>
<use href="#mg" x="1619.7" y="388.6"/>
<use href="#mg" x="1627" y="418.6"/>
<use href="#mg" x="1631.4" y="448.7"/>
<use href="#mg" x="1648.2" y="478.8"/>
<use href="#mg" x="1641.9" y="508.8"/>
<use href="#mg" x="1657.2" y="538.9"/>
<use href="#mg" x="1655.9" y="569"/>
<use href="#mg" x="1651.4" y="599.1"/>
<use href="#mg" x="1644.4" y="629.2"/>
<use href="#mg" x="1639.7" y="659.2"/>
<use href="#mg" x="1632.2" y="689.3"/>
<use href="#mg" x="1640.9" y="719.4"/>
<use href="#mg" x="1659.5" y="749.5"/>
<use href="#mg" x="1676.4" y="779.5"/>
<use href="#mg" x="1695.4" y="809.6"/>
<use href="#mg" x="1689.7" y="839.7"/>
<use href="#mg" x="1652.2" y="869.8"/>
<use href="#mg" x="1585.4" y="899.8"/>
<use href="#mg" x="1484.7" y="929.9"/>
<use href="#mg" x="1226.1" y="960"/>
<use href="#mg" x="1360.5" y="990.1"/>
<use href="#mg" x="1413.6" y="1020.1"/>
</g>
<g id="arrows" fill="#000" stroke="#000">
<line x1="1369" y1="442" x2="1534.1" y2="267.6" stroke-width="1.25"/>
<polygon stroke="none" points="1552,248.7 1539.4,272.5 1528.9,262.6"/>
<line x1="1636.5" y1="203" x2="1640.4" y2="498" stroke-width="1.25"/>
<polygon stroke="none" points="1640.7,524 1633.2,498.1 1647.6,497.9"/>
<line x1="1713.5" y1="862.5" x2="1491.9" y2="928.6" stroke-width="1.25"/>
<polygon stroke="none" points="1467,936 1489.9,921.7 1494,935.5"/>
</g>
<g id="axes" fill="#000">
<rect x="192.0" y="32.3" width="1583.6" height="1203.2" fill="none" stroke="#000" stroke-width="8.3"/>
<rect x="195.2" y="208.6" width="18" height="8.3"/>
<rect x="195.2" y="389.1" width="18" height="8.3"/>
<rect x="195.2" y="569.6" width="18" height="8.3"/>
<rect x="195.2" y="750.1" width="18" height="8.3"/>
<rect x="195.2" y="930.6" width="18" height="8.3"/>
<rect x="195.2" y="1111" width="18" height="8.3"/>
<rect x="195.2" y="118.4" width="7" height="8.3"/>
<rect x="195.2" y="298.9" width="7" height="8.3"/>
<rect x="195.2" y="479.4" width="7" height="8.3"/>
<rect x="195.2" y="659.8" width="7" height="8.3"/>
<rect x="195.2" y="840.3" width="7" height="8.3"/>
<rect x="195.2" y="1020.8" width="7" height="8.3"/>
<rect x="195.2" y="1201.3" width="7" height="8.3"/>
<rect x="207.7" y="1225.3" width="8.3" height="7"/>
<rect x="224.5" y="1225.3" width="8.3" height="7"/>
<rect x="239.1" y="1225.3" width="8.3" height="7"/>
<rect x="251.9" y="1225.3" width="8.3" height="7"/>
<rect x="263.5" y="1214.3" width="8.3" height="18"/>
<rect x="339.1" y="1225.3" width="8.3" height="7"/>
<rect x="383.4" y="1225.3" width="8.3" height="7"/>
<rect x="414.8" y="1225.3" width="8.3" height="7"/>
<rect x="439.2" y="1225.3" width="8.3" height="7"/>
<rect x="459.1" y="1225.3" width="8.3" height="7"/>
<rect x="475.9" y="1225.3" width="8.3" height="7"/>
<rect x="490.5" y="1225.3" width="8.3" height="7"/>
<rect x="503.3" y="1225.3" width="8.3" height="7"/>
<rect x="514.9" y="1214.3" width="8.3" height="18"/>
<rect x="590.5" y="1225.3" width="8.3" height="7"/>
<rect x="634.8" y="1225.3" width="8.3" height="7"/>
<rect x="666.2" y="1225.3" width="8.3" height="7"/>
<rect x="690.6" y="1225.3" width="8.3" height="7"/>
<rect x="710.5" y="1225.3" width="8.3" height="7"/>
<rect x="727.3" y="1225.3" width="8.3" height="7"/>
<rect x="741.9" y="1225.3" width="8.3" height="7"/>
<rect x="754.7" y="1225.3" width="8.3" height="7"/>
<rect x="766.3" y="1214.3" width="8.3" height="18"/>
<rect x="841.9" y="1225.3" width="8.3" height="7"/>
<rect x="886.2" y="1225.3" width="8.3" height="7"/>
<rect x="917.6" y="1225.3" width="8.3" height="7"/>
<rect x="942" y="1225.3" width="8.3" height="7"/>
<rect x="961.9" y="1225.3" width="8.3" height="7"/>
<rect x="978.7" y="1225.3" width="8.3" height="7"/>
<rect x="993.3" y="1225.3" width="8.3" height="7"/>
<rect x="1006.1" y="1225.3" width="8.3" height="7"/>
<rect x="1017.7" y="1214.3" width="8.3" height="18"/>
<rect x="1093.3" y="1225.3" width="8.3" height="7"/>
<rect x="1137.6" y="1225.3" width="8.3" height="7"/>
<rect x="1169" y="1225.3" width="8.3" height="7"/>
<rect x="1193.4" y="1225.3" width="8.3" height="7"/>
<rect x="1213.3" y="1225.3" width="8.3" height="7"/>
<rect x="1230.1" y="1225.3" width="8.3" height="7"/>
<rect x="1244.7" y="1225.3" width="8.3" height="7"/>
<rect x="1257.5" y="1225.3" width="8.3" height="7"/>
<rect x="1269" y="1214.3" width="8.3" height="18"/>
<rect x="1344.7" y="1225.3" width="8.3" height="7"/>
<rect x="1389" y="1225.3" width="8.3" height="7"/>
<rect x="1420.4" y="1225.3" width="8.3" height="7"/>
<rect x="1444.8" y="1225.3" width="8.3" height="7"/>
<rect x="1464.7" y="1225.3" width="8.3" height="7"/>
<rect x="1481.5" y="1225.3" width="8.3" height="7"/>
<rect x="1496.1" y="1225.3" width="8.3" height="7"/>
<rect x="1508.9" y="1225.3" width="8.3" height="7"/>
<rect x="1520.4" y="1214.3" width="8.3" height="18"/>
<rect x="1596.1" y="1225.3" width="8.3" height="7"/>
<rect x="1640.4" y="1225.3" width="8.3" height="7"/>
<rect x="1671.8" y="1225.3" width="8.3" height="7"/>
<rect x="1696.2" y="1225.3" width="8.3" height="7"/>
<rect x="1716.1" y="1225.3" width="8.3" height="7"/>
<rect x="1732.9" y="1225.3" width="8.3" height="7"/>
<rect x="1747.5" y="1225.3" width="8.3" height="7"/>
<rect x="1760.3" y="1225.3" width="8.3" height="7"/>
</g>
<g id="labels">
<text class="tk" x="165.3" y="64.3" font-size="56" text-anchor="end">1.2</text>
<text class="tk" x="169.2" y="239.9" font-size="56" text-anchor="end">0.9</text>
<text class="tk" x="169.2" y="410.7" font-size="56" text-anchor="end">0.6</text>
<text class="tk" x="169.2" y="595.5" font-size="56" text-anchor="end">0.3</text>
<text class="tk" x="169.2" y="774.1" font-size="56" text-anchor="end">0.0</text>
<text class="tk" x="172.2" y="952.1" font-size="56" text-anchor="end">–0.3</text>
<text class="tk" x="174.9" y="1133.5" font-size="56" text-anchor="end">–0.6</text>
<text class="tk" x="224.9" y="1314.4" font-size="56">10<tspan font-size="38.5" dy="-22.9" letter-spacing="-1.3">–10</tspan></text>
<text class="tk" x="454.8" y="1311.3" font-size="56">10<tspan font-size="38.5" dy="-22.9" letter-spacing="-1.3">–9</tspan></text>
<text class="tk" x="718.4" y="1313.2" font-size="56">10<tspan font-size="38.5" dy="-22.9" letter-spacing="-1.3">–8</tspan></text>
<text class="tk" x="965" y="1308.8" font-size="56">10<tspan font-size="38.5" dy="-22.9" letter-spacing="-1.3">–7</tspan></text>
<text class="tk" x="1223.3" y="1311.3" font-size="56">10<tspan font-size="38.5" dy="-22.9" letter-spacing="-1.3">–6</tspan></text>
<text class="tk" x="1477.1" y="1310.3" font-size="56">10<tspan font-size="38.5" dy="-22.9" letter-spacing="-1.3">–5</tspan></text>
<text class="tk" x="1718" y="1313.7" font-size="56">10<tspan font-size="38.5" dy="-22.9" letter-spacing="-1.3">–4</tspan></text>
<text class="tk" x="846" y="1386" font-size="60">i / <tspan dx="-0.9" letter-spacing="-0.45">A·cm</tspan><tspan font-size="38" dy="-25" dx="1.2">-2</tspan></text>
<text class="tk" transform="translate(65 739) rotate(-90)" font-size="59">E <tspan dx="2">/</tspan> <tspan dx="1">V</tspan><tspan font-size="41" dy="16" dx="-1.1">SCE</tspan></text>
</g>
<g id="legend">
<rect x="440" y="181.8" width="122" height="9" fill="#000000"/>
<use href="#mk" x="500.7" y="186.3"/>
<text class="lg" transform="translate(576 205.3) scale(1 1.05)" font-size="55">0.05M</text>
<rect x="440" y="250.8" width="122" height="9" fill="#ff0000"/>
<use href="#mr" x="500.7" y="255.3"/>
<text class="lg" transform="translate(576 274.3) scale(1 1.05)" font-size="55">0.1M</text>
<rect x="440" y="319.8" width="122" height="9" fill="#0000ff"/>
<use href="#mb" x="500.7" y="324.3"/>
<text class="lg" transform="translate(576 343.3) scale(1 1.05)" font-size="55">0.3M</text>
<rect x="440" y="388.8" width="122" height="9" fill="#00ff00"/>
<use href="#mg" x="500.7" y="393.3"/>
<text class="lg" transform="translate(576 412.3) scale(1 1.05)" font-size="55">0.6M</text>
</g>
</svg>
</body>
</html>
